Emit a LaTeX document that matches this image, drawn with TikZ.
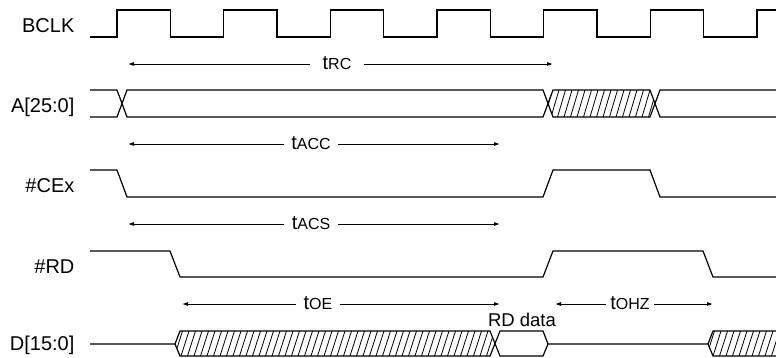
\documentclass[tikz,border=0pt]{standalone}
\usepackage{fontspec}
\setmainfont{Liberation Sans}
\usetikzlibrary{arrows.meta}
\newcommand{\tsub}[1]{t{\fontsize{16}{16}\selectfont #1}}
\begin{document}
\begin{tikzpicture}[x=1pt,y=-1pt,line width=1.2pt,
    sig/.style={anchor=base east,inner sep=0pt,font=\fontsize{20}{20}\selectfont},
    tim/.style={anchor=base,inner xsep=7pt,inner ysep=0pt,font=\fontsize{20}{20}\selectfont},
    tarr/.style={line width=0.9pt,-{Latex[length=6pt,width=4pt]}},
    hatch/.style={line width=0.8pt}]
  \useasboundingbox (0,0) rectangle (776,357);
  \node[sig] (bclk) at (75,32) {BCLK};
  \node[sig] (addr) at (75,112) {A[25:0]};
  \node[sig] (cex) at (75,192) {\#CEx};
  \node[sig] (rd) at (75,273) {\#RD};
  \node[sig] (data) at (75,350) {D[15:0]};
  \draw (90,37) foreach \k in {0,...,5} {
      -- ({117+106.67*\k},37) -- ({117+106.67*\k},10)
      -- ({170.3+106.67*\k},10) -- ({170.3+106.67*\k},37)}
    -- (757,37) -- (757,10) -- (776,10);
  \draw (90,90) -- (117,90) -- (127,117) -- (543,117) -- (553,90) -- (650,90) -- (660,117) -- (776,117);
  \draw (90,117) -- (117,117) -- (127,90) -- (543,90) -- (553,117) -- (650,117) -- (660,90) -- (776,90);
  \begin{scope}
    \clip (548,103.5) -- (553,90) -- (650,90) -- (655,103.5) -- (650,117) -- (553,117) -- cycle;
    \foreach \x in {538,544.5,...,660} \draw[hatch] (\x,117) -- ++(8,-27);
  \end{scope}
  \draw (90,170) -- (117,170) -- (127,197) -- (543,197) -- (553,170) -- (650,170) -- (660,197) -- (776,197);
  \draw (90,251) -- (170,251) -- (180,277) -- (543,277) -- (553,251) -- (703,251) -- (713,277) -- (776,277);
  \draw (90,344) -- (175,344) -- (180,331) -- (490,331) -- (500,356) -- (543,356) -- (548,344) -- (708,344) -- (713,331) -- (776,331);
  \draw (175,344) -- (180,356) -- (490,356) -- (500,331) -- (543,331) -- (548,344);
  \draw (708,344) -- (713,356) -- (776,356);
  \begin{scope}
    \clip (175,344) -- (180,331) -- (490,331) -- (495,343.5) -- (490,356) -- (180,356) -- cycle;
    \foreach \x in {168,174.5,...,500} \draw[hatch] (\x,356) -- ++(8,-25);
  \end{scope}
  \begin{scope}
    \clip (708,344) -- (713,331) -- (776,331) -- (776,356) -- (713,356) -- cycle;
    \foreach \x in {700,706.5,...,780} \draw[hatch] (\x,356) -- ++(8,-25);
  \end{scope}
  \node[anchor=base,inner sep=0pt,font=\fontsize{18.5}{18.5}\selectfont] (rddata) at (522,326) {RD data};
  \node[tim,inner xsep=12pt] (trc) at (337,69) {\tsub{RC}};
  \node[tim] (tacc) at (311,149) {\tsub{ACC}};
  \node[tim] (tacs) at (311,229) {\tsub{ACS}};
  \node[tim] (toe) at (318,309) {\tsub{OE}};
  \node[tim,inner xsep=4pt] (tohz) at (630,309) {\tsub{OHZ}};
  \coordinate (trcL) at (128,64);  \coordinate (trcR) at (553,64);
  \coordinate (taccL) at (128,144); \coordinate (taccR) at (500,144);
  \coordinate (tacsL) at (128,224); \coordinate (tacsR) at (500,224);
  \coordinate (toeL) at (182,304); \coordinate (toeR) at (500,304);
  \coordinate (tohzL) at (555,304); \coordinate (tohzR) at (713,304);
  \foreach \t in {trc,tacc,tacs,toe,tohz} {
    \draw[tarr] (\t.west |- \t L) -- (\t L);
    \draw[tarr] (\t.east |- \t R) -- (\t R);
  }
\end{tikzpicture}
\end{document}
